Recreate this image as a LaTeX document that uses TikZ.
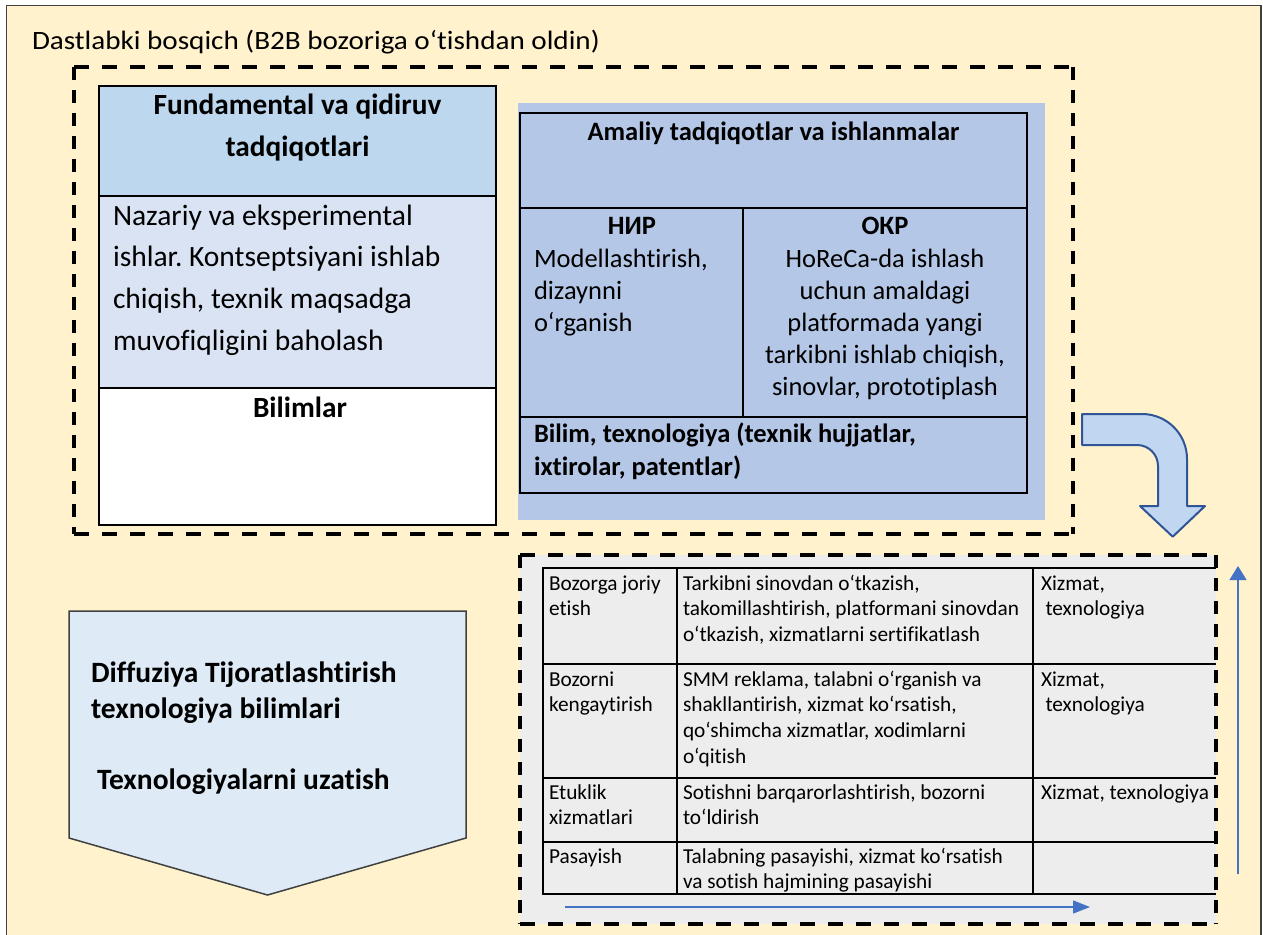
\documentclass[tikz,border=0pt]{standalone}
\usepackage{fontspec}
\setmainfont{Carlito}[Ligatures=CommonOff]
\newfontfamily\titlefont{Carlito}[FakeStretch=1.1, Ligatures=CommonOff]
\usetikzlibrary{arrows.meta}

\definecolor{cream}{HTML}{FFF2CC}
\definecolor{headblue}{HTML}{BDD7EE}
\definecolor{midblue}{HTML}{DAE3F3}
\definecolor{panelblue}{HTML}{B4C7E7}
\definecolor{turnfill}{HTML}{C0D6F1}
\definecolor{turnline}{HTML}{2F5597}
\definecolor{tablegrey}{HTML}{EDEDED}
\definecolor{pentafill}{HTML}{DEEBF7}
\definecolor{axisblue}{HTML}{4472C4}
\definecolor{framegrey}{HTML}{404040}

\tikzset{
  dashh/.style={line width=4pt, dash pattern=on 15pt off 13pt},
  dashv/.style={line width=4pt, dash pattern=on 13pt off 10pt},
  txt/.style={inner sep=0pt, outer sep=0pt},
  bigtxt/.style={txt, font=\fontsize{29.5}{41.7}\selectfont},
  bigbold/.style={txt, font=\fontsize{29.3}{42}\selectfont\bfseries},
  midtxt/.style={txt, font=\fontsize{26.5}{32}\selectfont},
  midbold/.style={txt, font=\fontsize{26.5}{33}\selectfont\bfseries},
  pentatxt/.style={txt, font=\fontsize{29.5}{36.7}\selectfont\bfseries},
  celltxt/.style={txt, font=\fontsize{21.3}{25.7}\selectfont, text width=400pt, align=flush left, anchor=base west},
  gridline/.style={line width=2pt, black},
  axis/.style={axisblue, line width=1.3pt},
}

\begin{document}
\frenchspacing
\begin{tikzpicture}[x=1pt, y=-1pt]
\useasboundingbox (0,0) rectangle (1263,934);
\fill[white] (0,0) rectangle (1263,934);

% page frame
\fill[cream] (6.5,5.5) rectangle (1261,945);
\draw[framegrey, line width=1.5pt] (6.5,945) -- (6.5,5.5) -- (1261,5.5) -- (1261,945);

\node[txt, anchor=base west, font=\fontsize{26.5}{31}\titlefont] (title) at (32,49)
  {Dastlabki bosqich (B2B bozoriga o‘tishdan oldin)};

% upper dashed frame
\draw[dashh] (74,67) -- (1073,67);
\draw[dashh] (74,534) -- (1073,534);
\draw[dashv] (74,67) -- (74,534);
\draw[dashv] (1073,67) -- (1073,534);

% fundamental research box
\fill[headblue] (99,86) rectangle (496,196);
\fill[midblue] (99,196) rectangle (496,388);
\fill[white] (99,388) rectangle (496,525);
\draw[gridline] (99,196) -- (496,196);
\draw[gridline] (99,388) -- (496,388);
\draw[line width=2.5pt] (99,86) rectangle (496,525);

\node[bigbold, text width=390pt, align=flush center, anchor=base] (fundhead) at (297.5,114)
  {Fundamental va qidiruv\\tadqiqotlari};
\node[bigtxt, text width=380pt, align=flush left, anchor=base west] (fundbody) at (113,225)
  {Nazariy va eksperimental\\ishlar. Kontseptsiyani ishlab\\chiqish, texnik maqsadga\\muvofiqligini baholash};
\node[bigbold, anchor=base] (bilimlar) at (300,417) {Bilimlar};

% applied research panel
\fill[panelblue] (518,103) rectangle (1045,520);
\draw[gridline] (520,113) rectangle (1027,493);
\draw[gridline] (520,208) -- (1027,208);
\draw[gridline] (520,417) -- (1027,417);
\draw[gridline] (743,208) -- (743,417);

\node[midbold, anchor=base] (amaliy) at (773.5,140) {Amaliy tadqiqotlar va ishlanmalar};
\node[midbold, anchor=base] (nir) at (632,234) {НИР};
\node[midtxt, text width=200pt, align=flush left, anchor=base west] (nirbody) at (534,267)
  {Modellashtirish,\\dizaynni\\o‘rganish};
\node[midbold, anchor=base] (okr) at (885,234) {ОКР};
\node[midtxt, text width=280pt, align=flush center, anchor=base] (okrbody) at (885,267)
  {HoReCa-da ishlash\\uchun amaldagi\\platformada yangi\\tarkibni ishlab chiqish,\\sinovlar, prototiplash};
\node[midbold, text width=480pt, align=flush left, anchor=base west] (bilim) at (534,442)
  {Bilim, texnologiya (texnik hujjatlar,\\ixtirolar, patentlar)};

% turning arrow towards the market stage
\draw[turnline, fill=turnfill, line width=2pt, line join=round]
  (1082,414) -- (1142,414) .. controls (1166.9,414) and (1187,434.1) .. (1187,459)
  -- (1187,506) -- (1205,506) -- (1172.7,536.7) -- (1140,506) -- (1158,506)
  -- (1158,466) .. controls (1158,454.4) and (1148.6,445) .. (1137,445)
  -- (1082,445) -- cycle;

% diffusion pentagon
\draw[framegrey, fill=pentafill, line width=1.5pt, line join=miter]
  (69,611) -- (466,611) -- (466,838) -- (267.5,895) -- (69,838) -- cycle;
\node[pentatxt, text width=400pt, align=flush left, anchor=base west] (diff) at (91,682)
  {Diffuziya Tijoratlashtirish\\texnologiya bilimlari};
\node[pentatxt, anchor=base west] (uzatish) at (97,789)
  {Texnologiyalarni uzatish};

% market stage table
\fill[tablegrey] (520,555) rectangle (1216,924);
\draw[gridline] (543,568) -- (1216,568);
\draw[gridline] (543,664) -- (1216,664);
\draw[gridline] (543,778) -- (1216,778);
\draw[gridline] (543,842) -- (1216,842);
\draw[gridline] (543,894) -- (1216,894);
\draw[gridline] (543,567) -- (543,895);
\draw[gridline] (677,568) -- (677,894);
\draw[gridline] (1033,568) -- (1033,894);

\node[celltxt] (r1a) at (549,590) {Bozorga joriy\\etish};
\node[celltxt] (r1b) at (683,590) {Tarkibni sinovdan o‘tkazish,\\takomillashtirish, platformani sinovdan\\o‘tkazish, xizmatlarni sertifikatlash};
\node[celltxt] (r1c) at (1041,590) {Xizmat,\\\hspace*{4.5pt}texnologiya};
\node[celltxt] (r2a) at (549,686) {Bozorni\\kengaytirish};
\node[celltxt] (r2b) at (683,686) {SMM reklama, talabni o‘rganish va\\shakllantirish, xizmat ko‘rsatish,\\qo‘shimcha xizmatlar, xodimlarni\\o‘qitish};
\node[celltxt] (r2c) at (1041,686) {Xizmat,\\\hspace*{4.5pt}texnologiya};
\node[celltxt] (r3a) at (549,799) {Etuklik\\xizmatlari};
\node[celltxt] (r3b) at (683,799) {Sotishni barqarorlashtirish, bozorni\\to‘ldirish};
\node[celltxt] (r3c) at (1041,799) {Xizmat, texnologiya};
\node[celltxt] (r4a) at (549,863) {Pasayish};
\node[celltxt] (r4b) at (683,863) {Talabning pasayishi, xizmat ko‘rsatish\\va sotish hajmining pasayishi};

% lower dashed frame
\draw[dashh] (520,555) -- (1216,555);
\draw[dashh] (520,924) -- (1216,924);
\draw[dashv] (520,555) -- (520,924);
\draw[dashv] (1216,555) -- (1216,924);

% stage axes
\coordinate (ax0) at (565,907);
\coordinate (ax1) at (1090,907);
\coordinate (ay0) at (1238,874);
\coordinate (ay1) at (1238,566);
\draw[axis, -{Triangle[length=17pt, width=13pt]}] (ax0) -- (ax1);
\draw[axis, -{Triangle[length=14pt, width=17pt]}] (ay0) -- (ay1);
\end{tikzpicture}
\end{document}
